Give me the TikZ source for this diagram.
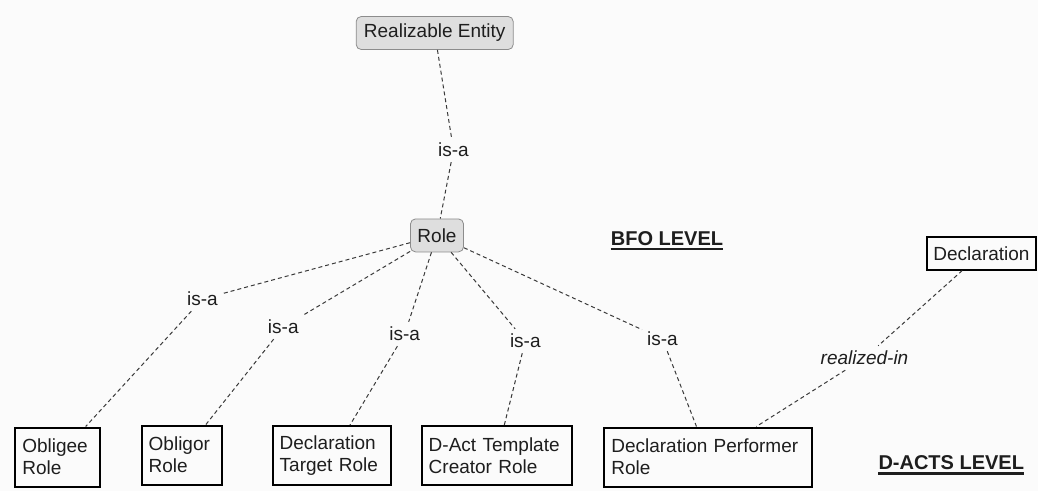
\documentclass[tikz,border=0pt]{standalone}
\usepackage{fontspec}
\setmainfont{Liberation Sans}
\definecolor{bg}{HTML}{FBFBFB}
\definecolor{ink}{HTML}{1E1E1E}
\definecolor{boxfill}{HTML}{DEDEDE}
\definecolor{boxedge}{HTML}{8C8C8C}
\definecolor{linkcol}{HTML}{3A3A3A}
\begin{document}
\begin{tikzpicture}[x=1pt,y=-1pt,
  txt/.style={font=\fontsize{19}{22}\selectfont, text=ink},
  concept/.style={txt, draw=boxedge, fill=boxfill, rounded corners=5pt,
    line width=0.8pt, minimum height=33pt, inner sep=0pt},
  rolebox/.style={txt, draw=black, line width=2pt, align=left,
    inner xsep=7pt, inner ysep=0pt, minimum height=59pt},
  eventbox/.style={txt, draw=black, line width=1.5pt, inner sep=0pt,
    minimum width=109pt, minimum height=33pt},
  linklabel/.style={txt, inner sep=5pt},
  link/.style={draw=linkcol, line width=1pt, dash pattern=on 4pt off 3pt},
  level/.style={font=\fontsize{20}{24}\selectfont\bfseries, text=ink,
    inner sep=0pt, anchor=base west}
]
% canvas
\fill[bg] (0,0) rectangle (1038,491);
\useasboundingbox (0,0) rectangle (1038,491);

% upper ontology classes
\node[concept, minimum width=157pt] (re) at (434.7,33) {Realizable Entity};
\node[concept, minimum width=53pt] (role) at (437,235.4) {Role};

% domain-level roles
\node[rolebox, text width=71pt] (obligee) at (57.8,457) {Obligee\\Role};
\node[rolebox, text width=66pt] (obligor) at (181.7,455) {Obligor\\Role};
\node[rolebox, text width=104pt] (target) at (331.7,455.5) {Declaration\\Target Role};
\node[rolebox, text width=136pt] (creator) at (496.7,455.4) {D-Act Template\\Creator Role};
\node[rolebox, text width=194pt] (perf) at (708.3,457) {Declaration Performer\\Role};
\node[eventbox] (decl) at (981.5,253.3) {Declaration};

% link labels
\node[linklabel] (l0) at (453.5,150) {is-a};
\node[linklabel] (l1) at (202.5,299) {is-a};
\node[linklabel] (l2) at (283.3,327) {is-a};
\node[linklabel] (l3) at (404.7,334) {is-a};
\node[linklabel] (l4) at (525.3,341) {is-a};
\node[linklabel] (l5) at (662.5,339) {is-a};
\node[linklabel, font=\fontsize{19}{22}\selectfont\itshape] (l6) at (864.5,358) {realized-in};

% dashed relations through their labels
\draw[link] (re) -- (l0) -- (role);
\draw[link] (role) -- (l1) -- (obligee);
\draw[link] (role) -- (l2) -- (obligor);
\draw[link] (role) -- (l3) -- (target);
\draw[link] (role) -- (l4) -- (creator);
\draw[link] (role) -- (l5) -- (perf);
\draw[link] (decl) -- (l6) -- (perf);

% level headings
\node[level] (bfo) at (610.7,245) {BFO LEVEL};
\node[level] (dacts) at (878.3,469.3) {D-ACTS LEVEL};
\draw[ink, line width=2.4pt] ([yshift=-4pt]bfo.base west) -- ([yshift=-4pt]bfo.base east);
\draw[ink, line width=2.4pt] ([yshift=-4pt]dacts.base west) -- ([yshift=-4pt]dacts.base east);
\end{tikzpicture}
\end{document}
